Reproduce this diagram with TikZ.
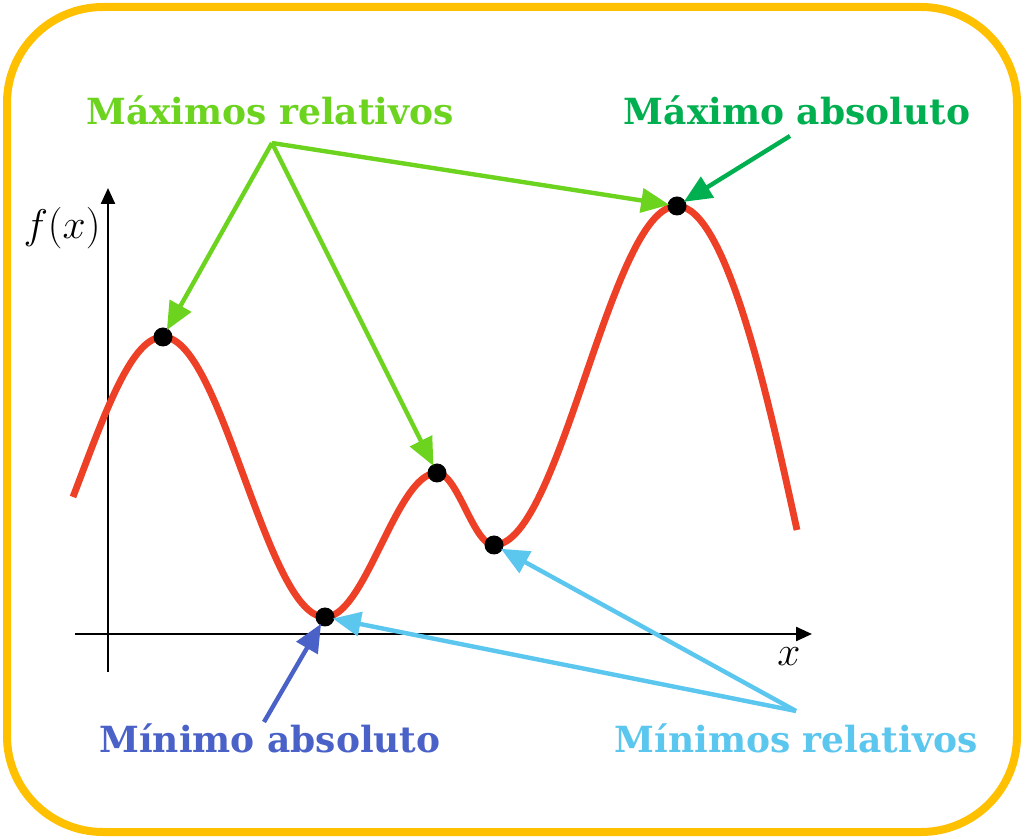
\documentclass[tikz,border=0pt]{standalone}
\usepackage{fontspec}
\setmainfont{DejaVu Serif}
\usetikzlibrary{arrows.meta}
\definecolor{bordercol}{HTML}{FFC000}
\definecolor{curvecol}{HTML}{EE4026}
\definecolor{lgreen}{HTML}{6CD41E}
\definecolor{dgreen}{HTML}{00B050}
\definecolor{dblue}{HTML}{4A62C8}
\definecolor{lblue}{HTML}{5BC6EE}
\begin{document}
\begin{tikzpicture}[x=0.5pt,y=-0.5pt,
  lbl/.style={font=\fontsize{18}{21}\selectfont\bfseries, inner sep=0pt, anchor=base},
  pt/.style={circle, fill=black, minimum size=9.5pt, inner sep=0pt},
  axis/.style={line width=1.2pt, -{Triangle[length=8pt,width=7pt]}},
  arr/.style={line width=2.2pt, -{Triangle[length=14pt,width=12pt]}, shorten >=-1pt}]
\useasboundingbox (0,0) rectangle (1024,839);
\fill[white] (0,0) rectangle (1024,839);
\draw[bordercol, line width=4pt, rounded corners=48pt] (7,7) rectangle (1017,832);
% axes
\coordinate (xa0) at (75,634);
\coordinate (xa1) at (812,634);
\coordinate (ya0) at (108,672);
\coordinate (ya1) at (108,188);
\draw[axis] (xa0) -- (xa1);
\draw[axis] (ya0) -- (ya1);
\node (fx) at (62,228) {\fontsize{21}{24}\selectfont $f(x)$};
\node (xl) at (789,657) {\fontsize{21}{24}\selectfont $x$};
% curve
\draw[curvecol, line width=3.4pt, line join=round]
  plot[domain=73:163, samples=40] (\x,{337+136.3*(1-cos((163-\x)*1.111111))})
  -- plot[domain=163:325, samples=60] (\x,{477-140*cos((\x-163)*1.111111)})
  -- plot[domain=325:437, samples=50] (\x,{545+72*cos((\x-325)*1.607143)})
  -- plot[domain=437:494, samples=30] (\x,{509-36*cos((\x-437)*3.157895)})
  -- plot[domain=494:677, samples=60] (\x,{375.5+169.5*cos((\x-494)*0.983607)})
  .. controls (727,206) and (770,407) .. (797,530);
% points
\node[pt] (M1) at (163,337) {};
\node[pt] (m0) at (325,617) {};
\node[pt] (M2) at (437,473) {};
\node[pt] (m1) at (494,545) {};
\node[pt] (M0) at (677,206) {};
% labels
\node[lbl, text=lgreen] (lMr) at (270,125) {Máximos relativos};
\node[lbl, text=dgreen] (lMa) at (797,125) {Máximo absoluto};
\node[lbl, text=dblue] (lma) at (270,753) {Mínimo absoluto};
\node[lbl, text=lblue] (lmr) at (796,753) {Mínimos relativos};
\coordinate (sMr) at (272,143);
\coordinate (sMa) at (790,136);
\coordinate (sma) at (264,722);
\coordinate (smr) at (796,711);
% arrows
\draw[arr, lgreen] (sMr) -- (M1);
\draw[arr, lgreen] (sMr) -- (M2);
\draw[arr, lgreen] (sMr) -- (M0);
\draw[arr, dgreen] (sMa) -- (M0);
\draw[arr, dblue] (sma) -- (m0);
\draw[arr, lblue] (smr) -- (m0);
\draw[arr, lblue] (smr) -- (m1);
\end{tikzpicture}
\end{document}
